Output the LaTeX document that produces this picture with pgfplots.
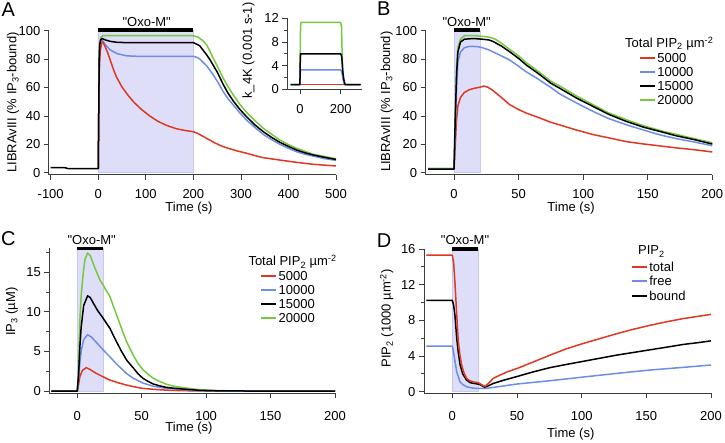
\documentclass[border=0pt]{standalone}
\usepackage{fontspec}
\setmainfont{Liberation Sans}
\newfontfamily\qfont{Liberation Sans}
\usepackage{pgfplots}
\pgfplotsset{compat=1.18}
\definecolor{cred}{RGB}{222,56,32}
\definecolor{cblue}{RGB}{108,142,232}
\definecolor{cgreen}{RGB}{118,200,62}
\definecolor{shade}{RGB}{222,222,248}
\definecolor{shadeedge}{RGB}{200,200,240}
\definecolor{axgray}{RGB}{60,60,60}
\pgfplotsset{igor/.style={
  scale only axis, clip=false,
  axis x line*=bottom, axis y line*=left,
  axis line style={-, draw=axgray, line width=0.8pt},
  every tick/.style={draw=axgray, line width=0.8pt},
  tick align=outside,
  major tick length=5pt, minor tick length=3pt,
  tick label style={font=\fontsize{13}{15}\selectfont},
  /pgf/number format/assume math mode=true,
  every axis plot/.append style={line width=1.5pt, line join=round},
  legend style={draw=none, fill=none, inner sep=0pt, outer sep=0pt, anchor=north west,
    font=\fontsize{13}{15}\selectfont,
    nodes={inner sep=0pt, text height=9.3pt, text depth=0pt},
    row sep=4.6pt, column sep=1.7pt},
  legend cell align=left,
  legend image code/.code={\draw[##1, line width=2pt] (0pt,0pt) -- (15pt,0pt);},
}}
\newcommand{\fs}{\fontsize{13}{15}\selectfont}
\newcommand{\oxo}{{\qfont "Oxo-M"}}
\begin{document}
\begin{tikzpicture}
\useasboundingbox (0pt,0pt) rectangle (725pt,442pt);
% ---------------- Panel A ----------------
\begin{axis}[igor, at={(48.8pt,267.3pt)}, anchor=south west, width=287.2pt, height=144pt,
  xmin=-104, xmax=500, ymin=-1.4, ymax=100,
  xtick={-100,0,...,500}, ytick={0,20,...,100},
  xticklabel style={inner sep=0pt, yshift=-9.2pt}]
\addplot[fill=shade, draw=shadeedge, line width=0.6pt, forget plot] coordinates {(0,0) (0,100) (200,100) (200,0)} -- cycle;
\addplot[black, line width=3.5pt, forget plot] coordinates {(0,100.6) (200,100.6)};
\addplot[cgreen] coordinates {(0,2.8) (1,40) (2,82) (3,90) (5,95) (10,96.5) (200,96.5) (210,95.5) (220,93) (228,90) (235,85.5) (242,80.5) (252,74) (263,66.5) (273,60.5) (284,54.7) (298,48) (312,42.5) (330,36.5) (347,31.3) (365,27) (382,23) (400,19.8) (417,17.2) (435,15) (452,13) (475,11.5) (494,10.2) (500,9.9)};
\addplot[cblue] coordinates {(0,2.8) (1,40) (2,80) (3,89) (5,92.5) (8,93.5) (15,90) (25,86.5) (40,83.8) (60,82.3) (80,82) (200,82) (207,81.3) (214,80) (221,77.5) (228,75.3) (235,72) (242,68.8) (252,63.5) (263,57) (273,52) (284,47.7) (298,42) (312,37) (330,31.7) (347,27) (365,23.2) (382,20) (400,17.2) (417,14.8) (435,13) (452,11.7) (475,10) (494,9) (500,8.7)};
\addplot[cred] coordinates {(0,2.8) (1,40) (2,70) (4,85) (7,91.5) (10,92) (14,89) (20,84.5) (24,80.5) (30,74.5) (38,67.6) (50,60.3) (62,54.8) (75,49.6) (90,44.8) (108,40) (125,36.3) (143,33.4) (165,30.9) (185,29.6) (200,28.9) (210,27.5) (228,24.2) (245,21) (263,18.3) (290,15.5) (312,13.7) (330,12) (347,10.6) (382,8.9) (417,7.3) (452,5.9) (494,4.9) (500,4.8)};
\addplot[black] coordinates {(-100,3.5) (-70,3.5) (-62,2.8) (0,2.8) (1,40) (2,80) (3,90) (5,93.5) (8,94.5) (15,93.5) (25,92.5) (40,91.8) (60,91.6) (100,91.6) (150,91.6) (200,91.6) (205,90.8) (213,89.5) (220,86.5) (228,83) (235,79.5) (242,75.5) (250,71) (263,62) (273,56) (284,50.5) (298,44.5) (312,39.4) (330,33.5) (347,28.9) (365,24.8) (382,21.4) (400,18.5) (417,16) (435,14) (452,12.5) (475,10.9) (494,9.7) (500,9.4)};
\end{axis}
% ---------------- Inset ----------------
\begin{axis}[igor, at={(287.3pt,352.7pt)}, anchor=south west, width=74.4pt, height=71pt,
  xmin=-62, xmax=303, ymin=0, ymax=12,
  xtick={0,200}, ytick={0,4,8,12}, minor ytick={2,6,10},
  xticklabel style={inner sep=0pt, yshift=-9.8pt}]
\addplot[cgreen] coordinates {(-46,0.8) (0,0.8) (1,5) (3,10.5) (5,11.3) (200,11.3) (204,10.5) (207,6) (212,2) (220,0.8) (298,0.8)};
\addplot[cblue] coordinates {(-46,0.8) (0,0.8) (2,3.3) (200,3.3) (205,3) (210,2) (216,1) (220,0.8) (298,0.8)};
\addplot[cred] coordinates {(-46,0.8) (298,0.8)};
\addplot[black] coordinates {(-46,0.8) (0,0.8) (1,4) (3,6) (200,6) (205,5.5) (210,3) (216,1.5) (222,0.8) (298,0.8)};
\end{axis}
% ---------------- Panel B ----------------
\begin{axis}[igor, at={(425.6pt,267.3pt)}, anchor=south west, width=286.7pt, height=144pt,
  xmin=-22, xmax=200, ymin=-1.4, ymax=100,
  xtick={0,50,...,200}, ytick={0,20,...,100},
  xticklabel style={inner sep=0pt, yshift=-9.2pt},
  legend style={at={(0.743,0.841)}}]
\addplot[fill=shade, draw=shadeedge, line width=0.6pt, forget plot] coordinates {(0,0) (0,100) (20,100) (20,0)} -- cycle;
\addplot[black, line width=3.5pt, forget plot] coordinates {(0,100.6) (20,100.6)};
\addplot[cgreen, forget plot] coordinates {(-20,3) (0,3) (1,45) (2,75) (3,88) (5,94) (8,96.5) (15,96.6) (22,96) (27,95.5) (32,94) (37,91) (43,86.9) (50,82.3) (56,77.5) (65,71.5) (75,64.5) (82,61) (95,54) (108,47.7) (120,42) (134,37.1) (147,33) (160,29.6) (172,27) (185,24.2) (200,21.1)};
\addplot[cred] coordinates {(-20,2.5) (0,2.5) (1,20) (2,38) (3,47) (5,53) (8,56.5) (12,58.5) (16,59.5) (20,60.2) (23,61) (26,60.3) (30,58) (36,53.5) (43,48) (50,44.5) (56,42) (65,39) (75,35.5) (82,33.6) (95,30) (108,26.8) (120,24.5) (134,21.8) (147,20.2) (160,18.8) (172,17.5) (185,16.3) (200,14.6)};
\addlegendentry{5000}
\addplot[cblue] coordinates {(-20,2.5) (0,2.5) (1,30) (2,60) (3,78) (5,85) (8,88) (12,89) (18,88.8) (22,88) (27,86.5) (35,83) (43,79.4) (50,75) (56,71) (65,66) (75,60) (82,55.4) (95,49) (108,43) (120,38) (134,33.6) (147,30) (160,26.5) (172,24) (185,21.8) (200,19)};
\addlegendentry{10000}
\addplot[black] coordinates {(-20,2.5) (0,2.5) (1,40) (2,70) (3,85) (5,92) (8,94) (15,94.5) (22,94) (27,93.5) (30.5,92.3) (37,89) (43,85.2) (50,80.5) (56,75.8) (65,70) (75,63) (82,59.4) (95,52.5) (108,46.5) (120,41) (134,35.9) (147,32) (160,28.9) (172,26) (185,23.5) (200,20.2)};
\addlegendentry{15000}
\addlegendimage{cgreen}
\addlegendentry{20000}
\end{axis}
% ---------------- Panel C ----------------
\begin{axis}[igor, at={(49.3pt,48.7pt)}, anchor=south west, width=285.7pt, height=145pt,
  xmin=-21.7, xmax=200, ymin=-0.29, ymax=18,
  xtick={0,50,...,200}, ytick={0,5,10,15}, minor ytick={2.5,7.5,12.5,17.5},
  xticklabel style={inner sep=0pt, yshift=-12.5pt},
  legend style={at={(0.7375,0.839)}}]
\addplot[fill=shade, draw=shadeedge, line width=0.6pt, forget plot] coordinates {(0,0) (0,18) (20,18) (20,0)} -- cycle;
\addplot[black, line width=3.2pt, forget plot] coordinates {(0,18) (20,18)};
\addplot[cgreen, forget plot] coordinates {(-20,0) (0,0) (1,3) (2,8.8) (3,12) (4.7,15) (6,16.6) (8,17.4) (10,17.1) (13,15.8) (17.6,14) (20,13.4) (22,12.8) (25.4,11.9) (28,10.7) (30.5,9.6) (35,7.6) (38.3,6.2) (43.5,4.5) (47,3.5) (51.2,2.65) (55,2.1) (59,1.6) (64,1.2) (69.3,0.84) (75,0.6) (82,0.42) (95,0.17) (110,0.05) (130,0) (200,0)};
\addplot[cred] coordinates {(-20,0) (0,0) (1,0.8) (2,1.8) (4,2.6) (7,2.95) (10,2.7) (15,2.2) (20,1.8) (25,1.4) (30.5,1.1) (37,0.8) (43.5,0.55) (50,0.35) (60,0.2) (70,0.1) (82,0.04) (100,0) (200,0)};
\addlegendentry{5000}
\addplot[cblue] coordinates {(-20,0) (0,0) (1,1.5) (2,3.5) (3,5) (5,6.5) (8,7.1) (11,6.8) (15,6.1) (20,5.2) (25.4,4.3) (30.5,3.4) (38.3,2.2) (43.5,1.6) (51,1.0) (59,0.6) (69,0.34) (82,0.17) (95,0.04) (110,0) (200,0)};
\addlegendentry{10000}
\addplot[black] coordinates {(-20,0) (0,0) (1,2) (2,5.5) (3,8) (5,10.8) (8,12) (10,11.8) (12.4,11.1) (16,10.1) (20,9.2) (22,8.7) (25.4,7.9) (28,7) (30.5,6.2) (34,5.1) (38.3,3.9) (43.5,2.9) (47,2.2) (51,1.6) (55,1.2) (59,0.88) (64,0.65) (69,0.46) (75,0.35) (82,0.25) (95,0.08) (110,0.02) (130,0) (200,0)};
\addlegendentry{15000}
\addlegendimage{cgreen}
\addlegendentry{20000}
\end{axis}
% ---------------- Panel D ----------------
\begin{axis}[igor, at={(424pt,48.7pt)}, anchor=south west, width=287pt, height=144.3pt,
  xmin=-21.9, xmax=200, ymin=-0.18, ymax=16,
  xtick={0,50,...,200}, ytick={0,4,...,16}, minor ytick={2,6,10,14},
  xticklabel style={inner sep=0pt, yshift=-13.3pt},
  legend style={at={(0.72,0.91)}, nodes={text height=9.4pt}, row sep=5.1pt}]
\addplot[fill=shade, draw=shadeedge, line width=0.6pt, forget plot] coordinates {(0,0) (0,16) (20,16) (20,0)} -- cycle;
\addplot[black, line width=3.2pt, forget plot] coordinates {(0,16) (20,16)};
\addplot[cblue, forget plot] coordinates {(-20,5.1) (0,5.1) (0.5,4.8) (1.3,4.1) (3.4,2.2) (6,1.1) (8,0.8) (11,0.56) (15,0.42) (19,0.37) (26.5,0.37) (35,0.55) (50,0.86) (75.5,1.23) (101,1.64) (127,2.05) (153,2.43) (178.6,2.73) (200,2.99)};
\addplot[black, forget plot] coordinates {(-20,10.25) (0,10.25) (1,9.7) (2,8.6) (3.4,6.0) (4.5,4.5) (6,3.0) (8,2.0) (11,1.3) (14,1.0) (16,0.95) (20,0.85) (22,0.75) (25,0.5) (27,0.6) (31.7,0.93) (40,1.3) (50,1.7) (62,2.2) (75.5,2.7) (88,3.05) (101,3.4) (114,3.75) (127,4.1) (140,4.4) (153,4.7) (166,5.0) (178.6,5.3) (190,5.5) (200,5.7)};
\addplot[cred] coordinates {(-20,15.3) (0,15.3) (1,14.5) (2,12.3) (3.4,8.6) (4.6,5.6) (6,4) (7.2,3.0) (9,2.1) (11,1.5) (13,1.25) (16,1.1) (20,1.0) (22,0.85) (24,0.67) (25.5,0.6) (27,0.8) (29,1.1) (31.7,1.5) (36,1.8) (42,2.2) (50,2.6) (62,3.3) (75.5,4.1) (88,4.8) (101,5.4) (114,5.95) (127,6.5) (140,7.0) (153,7.45) (166,7.85) (178.6,8.2) (190,8.45) (200,8.67)};
\addlegendentry{total}
\addlegendimage{cblue}
\addlegendentry{free}
\addlegendimage{black}
\addlegendentry{bound}
\end{axis}
% ---------------- Text ----------------
\begin{scope}[every node/.style={inner sep=0pt}]
\node[font=\fontsize{20}{24}\selectfont] at (8.3pt,432.8pt) {A};
\node[font=\fontsize{20}{24}\selectfont] at (383.7pt,433.2pt) {B};
\node[font=\fontsize{20}{24}\selectfont] at (8.3pt,203pt) {C};
\node[font=\fontsize{20}{24}\selectfont] at (384pt,201.7pt) {D};
\node[font=\fs, rotate=90] at (13pt,339.5pt) {LIBRAvIII (\% IP\textsubscript{3}-bound)};
\node[font=\fs, rotate=90] at (386.7pt,340.3pt) {LIBRAvIII (\% IP\textsubscript{3}-bound)};
\node[font=\fs, rotate=90] at (11.7pt,130.3pt) {IP\textsubscript{3} (µM)};
\node[font=\fs, rotate=90] at (386.7pt,123.7pt) {PIP\textsubscript{2} (1000 µm\textsuperscript{-2})};
\node[font=\fs, rotate=90] at (248.5pt,391.5pt) {k\_4K (0.001 s-1)};
\node[font=\fs] at (189pt,233.6pt) {Time (s)};
\node[font=\fs] at (571pt,233.6pt) {Time (s)};
\node[font=\fs] at (189pt,13.8pt) {Time (s)};
\node[font=\fs] at (570.8pt,8pt) {Time (s)};
\node[font=\fs] at (146.7pt,420.3pt) {\oxo};
\node[font=\fs] at (466.7pt,420.3pt) {\oxo};
\node[font=\fs] at (91.7pt,202pt) {\oxo};
\node[font=\fs] at (465pt,202pt) {\oxo};
\node[font=\fs, anchor=base west] at (625pt,394.3pt) {Total PIP\textsubscript{2} µm\textsuperscript{-2}};
\node[font=\fs, anchor=base west] at (248.3pt,176pt) {Total PIP\textsubscript{2} µm\textsuperscript{-2}};
\node[font=\fs, anchor=base west] at (638pt,187pt) {PIP\textsubscript{2}};
\end{scope}
\end{tikzpicture}
\end{document}
